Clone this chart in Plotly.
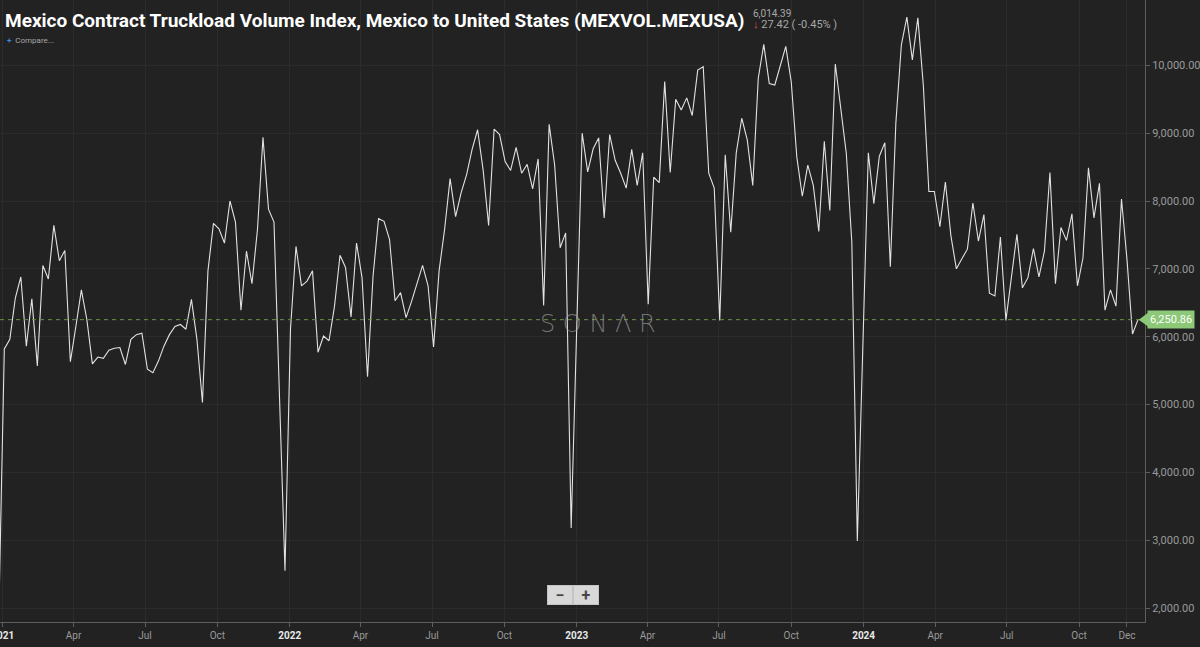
import pandas as pd
import plotly.graph_objects as go

# weekly index values (week starting Sunday)
start_week = "2020-12-27"

vol_2021 = [1900, 5820, 5960, 6570, 6880, 5860, 6560, 5570, 7050, 6850, 7640, 7120, 7270,
            5630, 6150, 6690, 6250, 5600, 5700, 5680, 5800, 5830, 5840, 5590, 5960, 6030,
            6050, 5520, 5470, 5640, 5860, 6030, 6150, 6180, 6110, 6550, 5960, 5030, 6970,
            7670, 7590, 7380, 8000, 7690, 6390, 7260, 6780, 7580, 8940, 7880, 7690, 5130, 2550]
vol_2022 = [6110, 7330, 6750, 6820, 6970, 5770, 6010, 5940, 6450, 7200, 7020, 6290, 7380,
            6870, 5410, 6890, 7740, 7700, 7430, 6530, 6650, 6280, 6520, 6770, 7050, 6750,
            5850, 6970, 7580, 8330, 7770, 8120, 8390, 8760, 9050, 8460, 7640, 9060, 8980,
            8580, 8450, 8790, 8410, 8540, 8180, 8620, 6460, 9130, 8530, 7310, 7530, 3180]
vol_2023 = [6100, 9000, 8430, 8770, 8930, 7750, 8980, 8600, 8410, 8190, 8760, 8230, 8710,
            6480, 8350, 8270, 9760, 8420, 9500, 9340, 9520, 9260, 9930, 9980, 8410, 8190,
            6240, 8680, 7540, 8710, 9220, 8900, 8230, 9810, 10310, 9730, 9710, 9990, 10280,
            9750, 8650, 8070, 8530, 8230, 7550, 8880, 7860, 10020, 9330, 8700, 7390, 2990]
vol_2024 = [5850, 8710, 7960, 8660, 8860, 7030, 9150, 10300, 10710, 10080, 10700, 9700, 8140,
            8140, 7620, 8280, 7490, 7000, 7150, 7290, 7970, 7410, 7800, 6640, 6600, 7470,
            6240, 6870, 7510, 6720, 6870, 7300, 6880, 7260, 8420, 6780, 7610, 7420, 7810,
            6750, 7160, 8490, 7750, 8260, 6390, 6690, 6450, 8030, 7140, 6040, 6250.86]

values = vol_2021 + vol_2022 + vol_2023 + vol_2024
dates = pd.date_range(start_week, periods=len(values), freq="7D")
last_value = values[-1]

tick_dates = ["2021-01-01", "2021-04-01", "2021-07-01", "2021-10-01",
              "2022-01-01", "2022-04-01", "2022-07-01", "2022-10-01",
              "2023-01-01", "2023-04-01", "2023-07-01", "2023-10-01",
              "2024-01-01", "2024-04-01", "2024-07-01", "2024-10-01", "2024-12-01"]
tick_labels = ["2021", "Apr", "Jul", "Oct", "2022", "Apr", "Jul", "Oct",
               "2023", "Apr", "Jul", "Oct", "2024", "Apr", "Jul", "Oct", "Dec"]
y_ticks = [2000, 3000, 4000, 5000, 6000, 7000, 8000, 9000, 10000]

BG = "#222222"
GRID = "#2c2c2c"
AXIS = "#5e5e5e"
TXT = "#9a9a9a"
GREEN = "#8cc877"

def fmt_tick(t):
    if t.isdigit():
        return "<b><span style='color:#e8e8e8'>%s</span></b>" % t
    return t

fig = go.Figure()
fig.add_trace(go.Scatter(x=dates, y=values, mode="lines",
                         line=dict(color="#e2e2e2", width=1.1),
                         hoverinfo="x+y", showlegend=False))

# last value guide
fig.add_shape(type="line", xref="paper", x0=0, x1=1, y0=last_value, y1=last_value,
              line=dict(color="#6c9146", width=1, dash="4px,4px"))
fig.add_shape(type="path", xref="paper", yref="y",
              path="M 0.9945 %f L 1.003 %f L 1.003 %f Z" % (last_value, last_value + 105, last_value - 105),
              fillcolor=GREEN, line=dict(width=0))
fig.add_annotation(x=1, xref="paper", y=last_value, yref="y", xanchor="left", xshift=2,
                   text="6,250.86", showarrow=False, bgcolor=GREEN, borderpad=2,
                   font=dict(family="Roboto", size=11, color="#ffffff"))

# header texts
fig.add_annotation(x=0, y=1, xref="paper", yref="paper", xanchor="left", yanchor="middle",
                   xshift=3, yshift=-20, showarrow=False,
                   text="<b>Mexico Contract Truckload Volume Index, Mexico to United States (MEXVOL.MEXUSA)</b>",
                   font=dict(family="Roboto", size=19, color="#ffffff"))
fig.add_annotation(x=0, y=1, xref="paper", yref="paper", xanchor="left", yanchor="middle",
                   xshift=751, yshift=-13, showarrow=False, text="6,014.39",
                   font=dict(family="Roboto", size=10, color="#a8a8a8"))
fig.add_annotation(x=0, y=1, xref="paper", yref="paper", xanchor="left", yanchor="middle",
                   xshift=751, yshift=-24, showarrow=False,
                   text="<span style='color:#e04848'>↓</span> 27.42 ( -0.45% )",
                   font=dict(family="Roboto", size=11, color="#a8a8a8"))
fig.add_annotation(x=0, y=1, xref="paper", yref="paper", xanchor="left", yanchor="middle",
                   xshift=5, yshift=-40, showarrow=False,
                   text="<span style='color:#3d8fe0'><b>+</b></span>  Compare...",
                   font=dict(family="Roboto", size=8, color="#a8a8a8"))

# watermark
fig.add_annotation(x=0.522, y=0.479, xref="paper", yref="paper", showarrow=False,
                   text="S O N Λ R",
                   font=dict(family="DejaVu Sans", size=24, color="rgba(170,170,170,0.6)", weight=300))

# zoom buttons
for bx, sym in [(560, "−"), (585.5, "+")]:
    fig.add_annotation(x=bx / 1145, y=0.0275, xref="paper", yref="paper", showarrow=False,
                       text="<b>%s</b>" % sym, width=22, height=16,
                       bgcolor="#d8d8d8", bordercolor="#c4c4c4", borderwidth=1, borderpad=1,
                       font=dict(family="Roboto", size=16, color="#474747"))

fig.update_layout(
    width=1200, height=647,
    paper_bgcolor=BG, plot_bgcolor=BG,
    margin=dict(l=0, r=55, t=0, b=25),
    font=dict(family="Roboto", color=TXT),
    hovermode="x",
    xaxis=dict(range=["2020-12-28 12:00", "2024-12-23 22:00"],
               tickmode="array", tickvals=tick_dates,
               ticktext=[fmt_tick(t) for t in tick_labels],
               tickfont=dict(size=10, color=TXT),
               ticklabeloverflow="allow",
               showgrid=True, gridcolor=GRID, gridwidth=1,
               showline=True, linecolor=AXIS, linewidth=1,
               ticks="outside", ticklen=4, tickcolor=AXIS,
               zeroline=False, automargin=False),
    yaxis=dict(range=[1794, 10963], side="right",
               tickmode="array", tickvals=y_ticks, tickformat=",.2f",
               tickfont=dict(size=11, color=TXT),
               ticklabeloverflow="allow",
               showgrid=True, gridcolor=GRID, gridwidth=1,
               showline=True, linecolor=AXIS, linewidth=1,
               ticks="outside", ticklen=4, tickcolor=AXIS,
               zeroline=False, automargin=False),
)

# drop the default page margin so the figure sits at the window origin
fig.write_html("out.html", config={"displayModeBar": False},
               post_script="document.body.style.margin='0';")
